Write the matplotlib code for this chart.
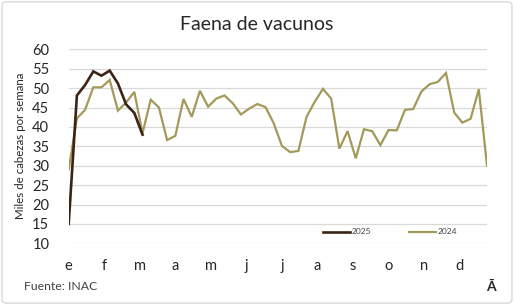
import matplotlib
matplotlib.use("Agg")
import matplotlib.pyplot as plt
from matplotlib.lines import Line2D
from matplotlib.patches import FancyBboxPatch

plt.rcParams['font.family'] = ['Lato', 'DejaVu Sans']

months = ["e", "f", "m", "a", "m", "j", "j", "a", "s", "o", "n", "d"]
y_ticks = [10, 15, 20, 25, 30, 35, 40, 45, 50, 55, 60]

faena_2024 = [29.0, 42.2, 44.4, 50.2, 50.2, 52.1, 44.2, 46.3, 49.0, 38.4,
              47.0, 45.0, 36.6, 37.7, 47.2, 42.6, 49.3, 45.2, 47.3, 48.1,
              46.1, 43.2, 44.7, 45.9, 45.1, 40.9, 35.1, 33.5, 33.8, 42.6,
              46.5, 49.8, 47.3, 34.4, 38.9, 31.9, 39.4, 38.9, 35.3, 39.2,
              39.1, 44.4, 44.6, 49.1, 51.0, 51.6, 53.9, 43.7, 41.1, 42.1,
              49.7, 30.0]
faena_2025 = [15.0, 48.1, 50.8, 54.3, 53.2, 54.5, 51.2, 45.8, 43.6, 38.0]

W, H = 514, 305
fig = plt.figure(figsize=(W / 100, H / 100), dpi=100)
fig.patch.set_facecolor("white")
border = FancyBboxPatch((0.004, 0.006), 0.992, 0.988, boxstyle="round,pad=0,rounding_size=0.01",
                        transform=fig.transFigure, fill=False, edgecolor="#d9d9d9", linewidth=1.0)
fig.patches.append(border)

left = 68.7 / W
right = 487.0 / W
bottom = 1 - 243.3 / H
top = 1 - 49.3 / H
ax = fig.add_axes([left, bottom, right - left, top - bottom])

x24 = list(range(len(faena_2024)))
x25 = list(range(len(faena_2025)))
c24 = "#a3995a"
c25 = "#3b2415"
ax.plot(x24, faena_2024, color=c24, lw=1.6, solid_joinstyle="miter", zorder=3)
ax.plot(x25, faena_2025, color=c25, lw=1.9, solid_joinstyle="miter", zorder=4)

ax.set_xlim(0, len(faena_2024) - 1)
ax.set_ylim(10, 60)
ax.set_yticks(y_ticks)
ax.set_yticklabels([str(v) for v in y_ticks], fontsize=10.5, color="#262626")
nweeks = len(faena_2024)
ax.set_xticks([i * nweeks / 12 for i in range(12)])
ax.set_xticklabels(months, fontsize=10.5, color="#262626")
ax.tick_params(axis="both", length=0)
ax.tick_params(axis="x", pad=11)
ax.tick_params(axis="y", pad=14)
ax.yaxis.grid(True, color="#d9d9d9", lw=0.9, zorder=0)
ax.set_axisbelow(True)
for s in ax.spines.values():
    s.set_visible(False)
ax.set_facecolor("none")

ax.set_ylabel("Miles de cabezas por semana", fontsize=8.3, color="#262626", labelpad=4)

fig.text(0.5, 1 - 25 / H, "Faena de vacunos", ha="center", va="center", fontsize=14, color="#262626")
fig.text(24 / W, 1 - 286 / H, "Fuente: INAC", ha="left", va="center", fontsize=8.8, color="#404040")
fig.text(491 / W, 1 - 287 / H, "Ā", ha="center", va="center", fontsize=10, fontweight="bold", color="#262626")

handles = [Line2D([], [], color=c25, lw=1.9), Line2D([], [], color=c24, lw=1.6)]
leg = ax.legend(handles, ["2025", "2024"], loc="center", bbox_to_anchor=((390 - 68.7) / (487 - 68.7), (243.3 - 232) / 194),
                ncol=2, frameon=False, fontsize=6, handlelength=3.3, handletextpad=0.2, columnspacing=4.5,
                labelcolor="#404040")

fig.savefig("out.png", dpi=100, facecolor="white")
